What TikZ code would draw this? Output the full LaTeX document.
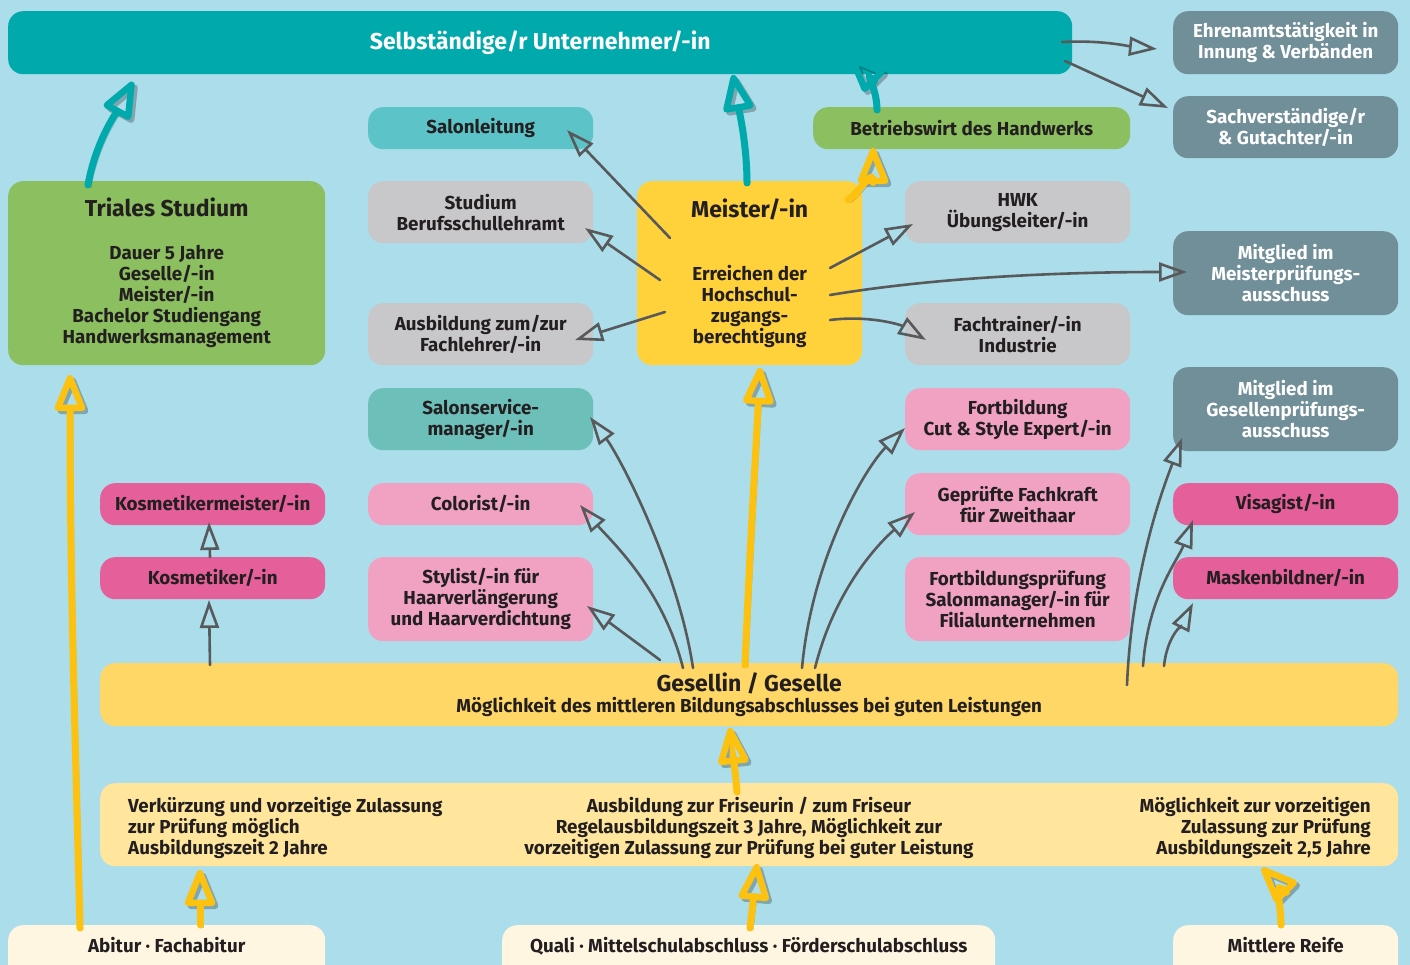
\documentclass[tikz,border=0pt]{standalone}
\usepackage{fontspec}
\setmainfont{Fira Sans}
\usetikzlibrary{arrows.meta,calc}

\definecolor{bgblau}{HTML}{ABDDEA}
\definecolor{tuerkis}{HTML}{00A9AC}
\definecolor{tuerkishell}{HTML}{5CC4C8}
\definecolor{salbei}{HTML}{6DBFBA}
\definecolor{schiefer}{HTML}{718F99}
\definecolor{hellgrau}{HTML}{C8C8CA}
\definecolor{sonne}{HTML}{FFD23C}
\definecolor{gruen}{HTML}{8BBF5F}
\definecolor{pink}{HTML}{E5609A}
\definecolor{rosa}{HTML}{F1A2C3}
\definecolor{gelbbalken}{HTML}{FFD766}
\definecolor{gelbhell}{HTML}{FFE69C}
\definecolor{creme}{HTML}{FFF6E2}
\definecolor{pfeilgrau}{HTML}{58595B}
\definecolor{pfeilgelb}{HTML}{FDC20F}
\definecolor{schrift}{HTML}{231F20}

\begin{document}
\begin{tikzpicture}[x=1pt, y=-1pt,
  box/.style={rounded corners=15pt, anchor=north west, minimum width=225pt,
              minimum height=42pt, align=center, inner sep=2pt, text=schrift,
              font=\fontsize{18.8}{21}\selectfont\bfseries},
  hoch/.style={box, minimum height=62pt},
  dreizeilig/.style={box, minimum height=84pt},
  titel/.style={font=\fontsize{23}{27}\selectfont\bfseries},
  fliess/.style={inner sep=0pt, text=schrift, font=\fontsize{18.8}{21}\selectfont\bfseries},
  grauarr/.style={draw=pfeilgrau, line width=2.6pt, line cap=round,
                  -{Triangle[open, length=28pt, width=19pt, line width=2.6pt]}},
  dickarr/.style={line width=7pt, line cap=round,
                  -{Triangle[open, round, length=42pt, width=32pt, line width=6.5pt]},
                  preaction={draw=black, draw opacity=0.25,
                             transform canvas={shift={(3pt,-3pt)}}}},
  gelbarr/.style={dickarr, draw=pfeilgelb},
  tuerkisarr/.style={dickarr, draw=tuerkis}
]
  \useasboundingbox (0,0) rectangle (1410,965);
  \clip (0,0) rectangle (1410,965);
  \fill[bgblau] (0,0) rectangle (1410,965);

  % oberste Ebene
  \node[box, fill=tuerkis, minimum width=1064pt, minimum height=63pt, titel, text=white]
    (selbst) at (8,11) {Selbständige/r Unternehmer/-in};
  \node[box, fill=schiefer, minimum height=63pt, text=white] (ehren) at (1173,11)
    {Ehrenamtstätigkeit in\\Innung \& Verbänden};
  \node[hoch, fill=schiefer, text=white] (sachv) at (1173,96)
    {Sachverständige/r\\\& Gutachter/-in};
  \node[dreizeilig, fill=schiefer, text=white] (mpa) at (1173,231)
    {Mitglied im\\Meisterprüfungs-\\ausschuss};
  \node[dreizeilig, fill=schiefer, text=white] (gpa) at (1173,367)
    {Mitglied im\\Gesellenprüfungs-\\ausschuss};
  \node[box, fill=pink] (visag) at (1173,483) {Visagist/-in};
  \node[box, fill=pink] (masken) at (1173,557) {Maskenbildner/-in};

  % linke Mitte
  \node[box, fill=tuerkishell] (salonl) at (368,107) {Salonleitung};
  \node[hoch, fill=hellgrau] (studium) at (368,181) {Studium\\Berufsschullehramt};
  \node[hoch, fill=hellgrau] (fachlehrer) at (368,303) {Ausbildung zum/zur\\Fachlehrer/-in};
  \node[hoch, fill=salbei] (salonserv) at (368,388) {Salonservice-\\manager/-in};
  \node[box, fill=rosa] (colorist) at (368,483) {Colorist/-in};
  \node[dreizeilig, fill=rosa] (stylist) at (368,557)
    {Stylist/-in für\\Haarverlängerung\\und Haarverdichtung};

  % Meister und rechte Mitte
  \node[box, fill=sonne, minimum height=184pt] (meister) at (637,181)
    {{\fontsize{23}{27}\selectfont Meister/-in}\\[42pt]Erreichen der\\Hochschul-\\zugangs-\\berechtigung};
  \node[box, fill=gruen, minimum width=317pt] (bwl) at (813,107) {Betriebswirt des Handwerks};
  \node[hoch, fill=hellgrau] (hwk) at (905,181) {HWK\\Übungsleiter/-in};
  \node[hoch, fill=hellgrau] (fachtrainer) at (905,303) {Fachtrainer/-in\\Industrie};
  \node[hoch, fill=rosa] (cutstyle) at (905,388) {Fortbildung\\Cut \& Style Expert/-in};
  \node[hoch, fill=rosa] (zweithaar) at (905,473) {Geprüfte Fachkraft\\für Zweithaar};
  \node[dreizeilig, fill=rosa] (salonmgr) at (905,557)
    {Fortbildungsprüfung\\Salonmanager/-in für\\Filialunternehmen};

  % links
  \node[box, fill=gruen, minimum width=317pt, minimum height=184pt, text depth=6pt] (triales) at (8,181)
    {{\fontsize{23}{27}\selectfont Triales Studium}\\[22pt]Dauer 5 Jahre\\Geselle/-in\\Meister/-in\\Bachelor Studiengang\\Handwerksmanagement};
  \node[box, fill=pink] (kosmm) at (100,483) {Kosmetikermeister/-in};
  \node[box, fill=pink] (kosm) at (100,557) {Kosmetiker/-in};

  % Gesellenebene und Ausbildung
  \node[box, fill=gelbbalken, minimum width=1298pt, minimum height=63pt] (gesell) at (100,663)
    {{\fontsize{23}{27}\selectfont Gesellin / Geselle}\\Möglichkeit des mittleren Bildungsabschlusses bei guten Leistungen};
  \node[box, fill=gelbhell, minimum width=1298pt, minimum height=83pt] (ausb) at (100,783) {};
  \node[fliess, anchor=north west, align=left] (verk) at (128,797)
    {Verkürzung und vorzeitige Zulassung\\zur Prüfung möglich\\Ausbildungszeit 2 Jahre};
  \node[fliess, anchor=north, align=center] (friseur) at (749,797)
    {Ausbildung zur Friseurin / zum Friseur\\Regelausbildungszeit 3 Jahre, Möglichkeit zur\\vorzeitigen Zulassung zur Prüfung bei guter Leistung};
  \node[fliess, anchor=north east, align=right] (vorz) at (1371,797)
    {Möglichkeit zur vorzeitigen\\Zulassung zur Prüfung\\Ausbildungszeit 2,5 Jahre};

  % Schulabschluesse
  \node[box, fill=creme, minimum width=317pt, minimum height=0pt, text height=23pt,
        text depth=40pt, inner ysep=4pt] (abitur) at (8,925) {Abitur · Fachabitur};
  \node[box, fill=creme, minimum width=493pt, minimum height=0pt, text height=23pt,
        text depth=40pt, inner ysep=4pt] (quali) at (502,925)
    {Quali · Mittelschulabschluss · Förderschulabschluss};
  \node[box, fill=creme, minimum height=0pt, text height=23pt,
        text depth=40pt, inner ysep=4pt] (reife) at (1173,925) {Mittlere Reife};

  % dicke Pfeile
  \draw[tuerkisarr] ($(triales.north west)+(80,4)$) .. controls +(8,-45) and +(-15,28) .. ($(selbst.north west)+(125,71)$);
  \draw[tuerkisarr] ($(meister.north west)+(110,2)$) .. controls +(0,-40) and +(5,30) .. ($(selbst.north west)+(725,64)$);
  \draw[tuerkisarr] ($(bwl.north west)+(64,3)$) .. controls +(0,-25) and +(12,12) .. ($(selbst.north west)+(842,46)$);
  \draw[gelbarr] ($(meister.north west)+(211,19)$) .. controls +(15,-12) and +(0,20) .. ($(bwl.north west)+(60,41)$);
  \draw[gelbarr] ($(gesell.north west)+(645,2)$) .. controls +(5,-120) and +(-5,100) .. ($(meister.north west)+(123,187)$);
  \draw[gelbarr] ($(abitur.north west)+(72,3)$) .. controls +(-5,-200) and +(0,200) .. ($(triales.north west)+(62,194)$);
  \draw[gelbarr] ($(abitur.north west)+(192,0)$) -- ($(ausb.north west)+(100,87)$);
  \draw[gelbarr] ($(ausb.north west)+(637,9)$) .. controls +(-2,-25) and +(2,20) .. ($(gesell.north west)+(630,65)$);
  \draw[gelbarr] ($(quali.north west)+(248,3)$) .. controls +(3,-25) and +(-2,20) .. ($(ausb.north west)+(657,81)$);
  \draw[gelbarr] ($(reife.north west)+(108,0)$) .. controls +(0,-25) and +(10,10) .. ($(ausb.north west)+(1162,85)$);

  % graue Pfeile
  \draw[grauarr] ($(selbst.north west)+(1054,31)$) .. controls +(40,-2) and +(-30,-3) .. ($(ehren.north west)+(-16,38)$);
  \draw[grauarr] ($(selbst.north west)+(1057,50)$) -- ($(sachv.north west)+(-5,12)$);
  \draw[grauarr] ($(meister.north west)+(33,57)$) -- ($(salonl.north west)+(199,23)$);
  \draw[grauarr] ($(meister.north west)+(23,99)$) -- ($(studium.north west)+(217,47)$);
  \draw[grauarr] ($(meister.north west)+(28,131)$) -- ($(fachlehrer.north west)+(207,37)$);
  \draw[grauarr] ($(meister.north west)+(193,87)$) -- ($(hwk.north west)+(8,43)$);
  \draw[grauarr] ($(meister.north west)+(193,114)$) .. controls +(120,-20) and +(-100,0) .. ($(mpa.north west)+(14,41)$);
  \draw[grauarr] ($(meister.north west)+(193,139)$) .. controls +(40,-5) and +(-25,-15) .. ($(fachtrainer.north west)+(21,37)$);
  \draw[grauarr] ($(gesell.north west)+(593,5)$) .. controls +(-15,-100) and +(30,40) .. ($(salonserv.north west)+(222,29)$);
  \draw[grauarr] ($(gesell.north west)+(583,5)$) .. controls +(-20,-80) and +(30,35) .. ($(colorist.north west)+(212,22)$);
  \draw[grauarr] ($(gesell.north west)+(560,-3)$) -- ($(stylist.north west)+(219,49)$);
  \draw[grauarr] ($(gesell.north west)+(702,5)$) .. controls +(10,-110) and +(-40,40) .. ($(cutstyle.north west)+(0,40)$);
  \draw[grauarr] ($(gesell.north west)+(715,5)$) .. controls +(20,-80) and +(-35,30) .. ($(zweithaar.north west)+(10,39)$);
  \draw[grauarr] ($(gesell.north west)+(1027,22)$) .. controls +(5,-120) and +(-15,40) .. ($(gpa.north west)+(9,71)$);
  \draw[grauarr] ($(gesell.north west)+(1043,3)$) .. controls +(5,-70) and +(-15,40) .. ($(visag.north west)+(20,37)$);
  \draw[grauarr] ($(gesell.north west)+(1064,3)$) .. controls +(3,-30) and +(-10,20) .. ($(masken.north west)+(20,46)$);
  \draw[grauarr] ($(gesell.north west)+(110,2)$) -- ($(kosm.north west)+(109,43)$);
  \draw[grauarr] ($(kosm.north west)+(110,0)$) -- ($(kosmm.north west)+(109,39)$);
\end{tikzpicture}
\end{document}
